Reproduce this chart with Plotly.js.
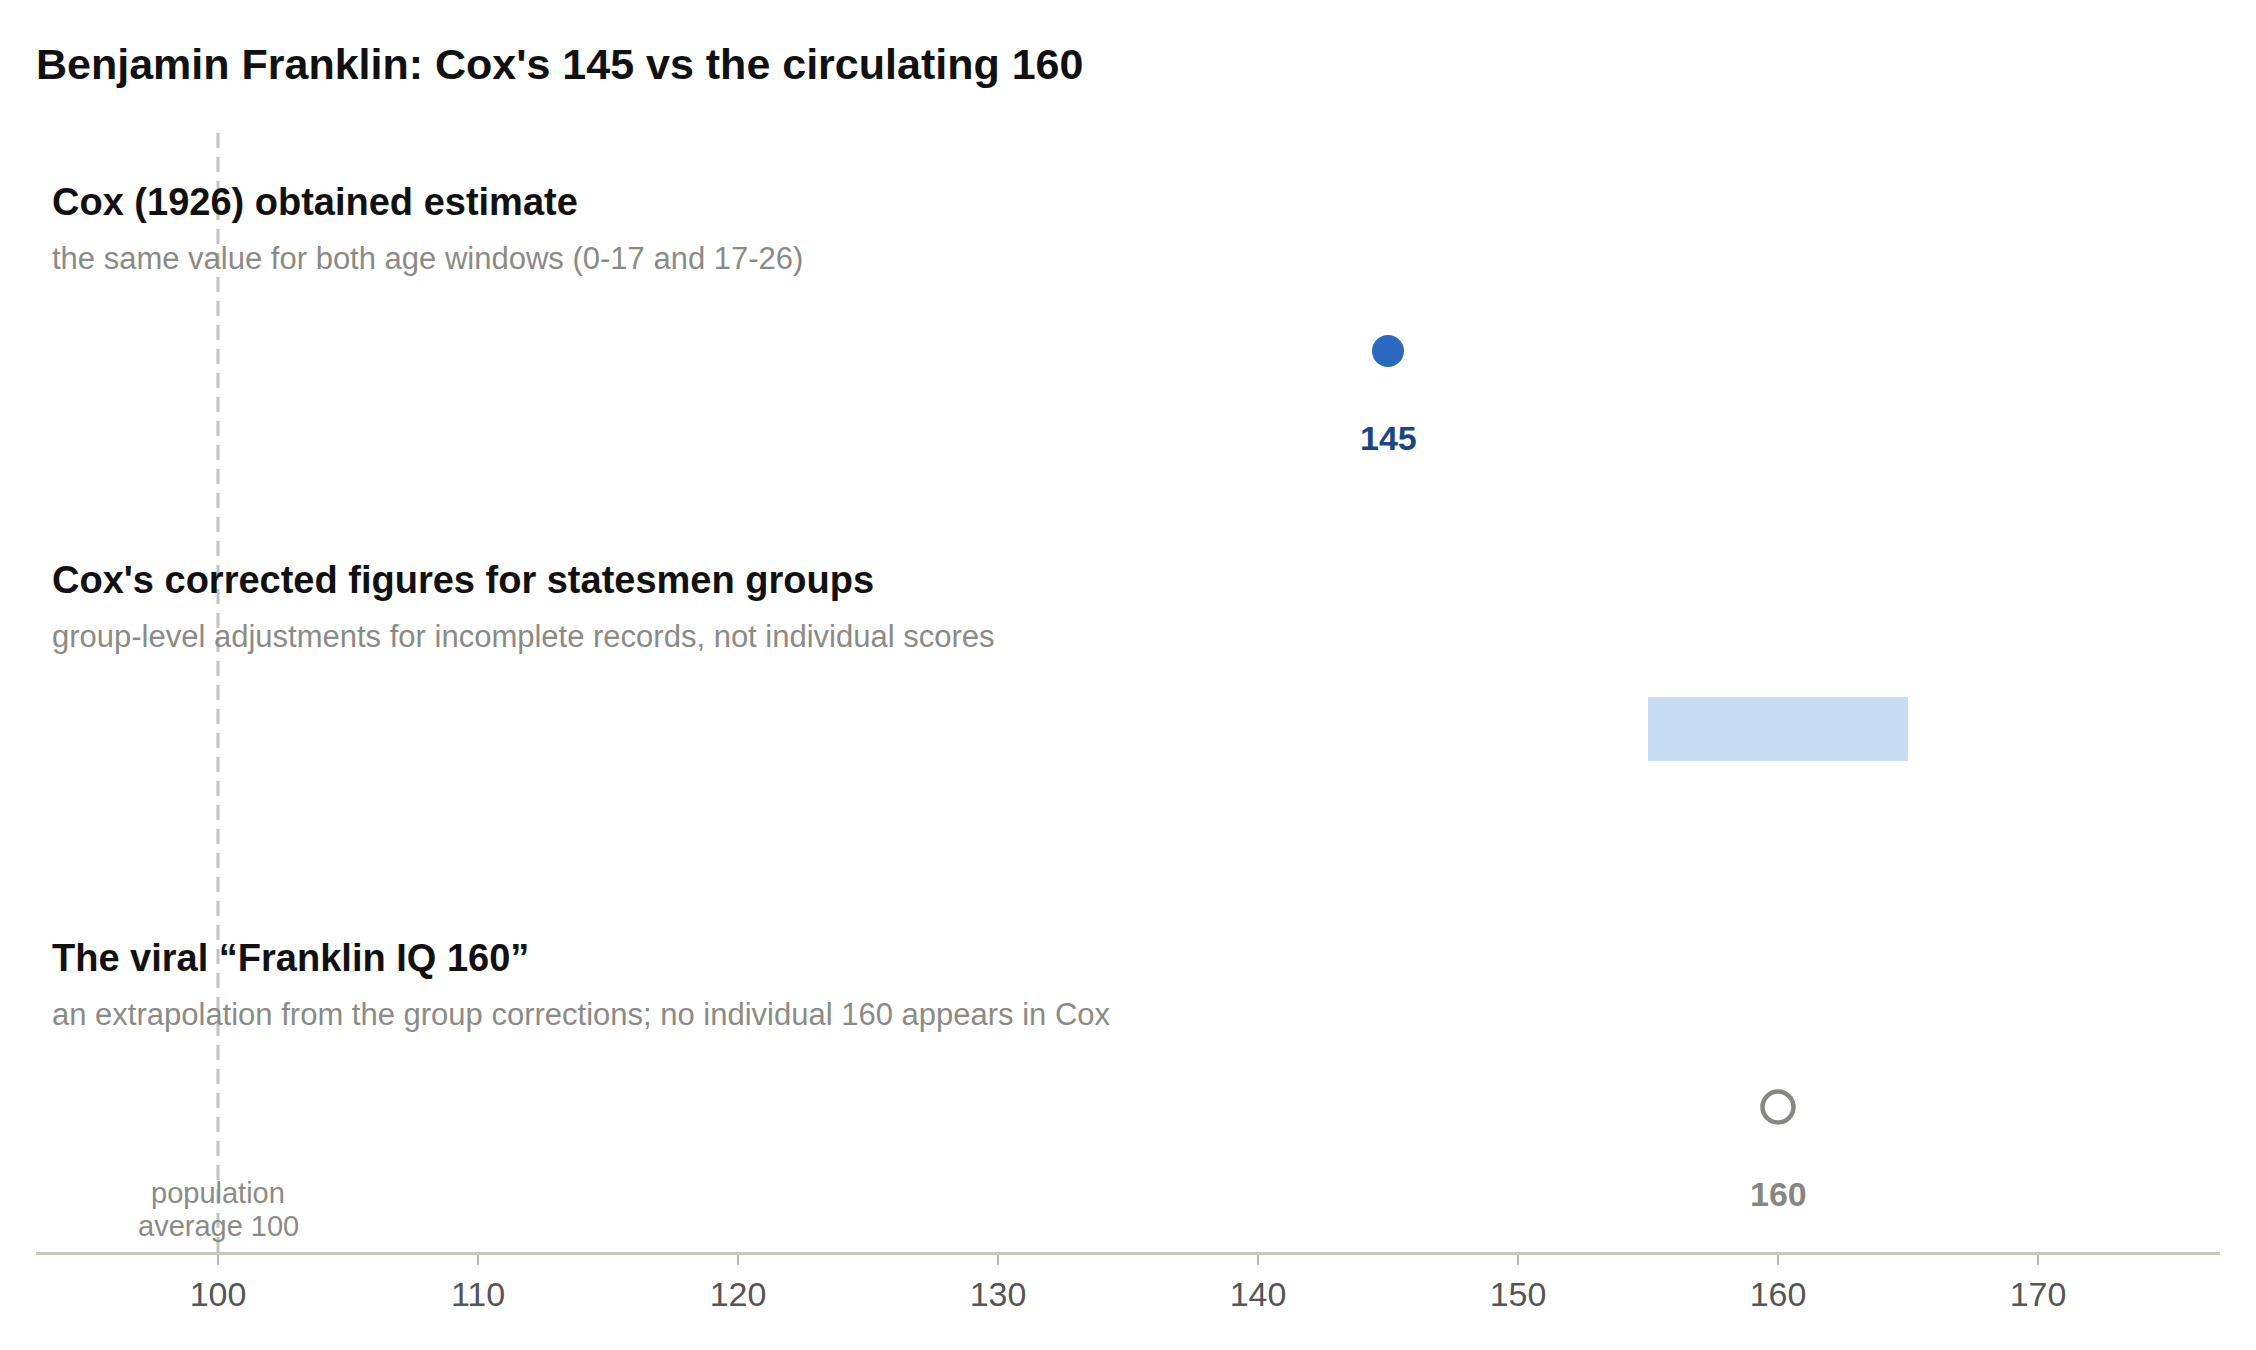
<!DOCTYPE html>
<html>
<head>
<meta charset="utf-8">
<script src="https://cdn.plot.ly/plotly-3.0.1.min.js"></script>
<style>
  html, body { margin: 0; padding: 0; background: #ffffff; }
  #chart { width: 2256px; height: 1350px; }
</style>
</head>
<body>
<div id="chart"></div>
<script>
// ---- data ----
const chartTitle = "Benjamin Franklin: Cox's 145 vs the circulating 160";
const rowTitles = [
  "Cox (1926) obtained estimate",
  "Cox's corrected figures for statesmen groups",
  "The viral \u201cFranklin IQ 160\u201d"
];
const rowSubtitles = [
  "the same value for both age windows (0-17 and 17-26)",
  "group-level adjustments for incomplete records, not individual scores",
  "an extrapolation from the group corrections; no individual 160 appears in Cox"
];
const rowIndex = [2, 1, 0];           // top to bottom
const coxEstimate = [145];
const correctedLow = [155];
const correctedHigh = [165];
const viralClaim = [160];
const populationAverage = 100;
const populationLabel = ["population", "average 100"];
const tickValues = [100, 110, 120, 130, 140, 150, 160, 170];
const tickLabels = ["100", "110", "120", "130", "140", "150", "160", "170"];

// ---- styling ----
const FONT = "Liberation Sans, Arial, Helvetica, sans-serif";
const BLUE = "#2a69bf";
const DARKBLUE = "#1b4686";
const LIGHTBLUE = "#c8ddf4";
const GREY = "#878782";
const SUBGREY = "#8b8b86";

const traces = [
  {
    type: "bar",
    orientation: "h",
    y: [rowIndex[1]],
    base: correctedLow,
    x: correctedHigh.map((h, i) => h - correctedLow[i]),
    width: 0.169,
    marker: { color: LIGHTBLUE, line: { width: 0 } },
    hoverinfo: "skip",
    showlegend: false
  },
  {
    type: "scatter",
    mode: "markers",
    x: coxEstimate,
    y: [rowIndex[0]],
    marker: { size: 32, color: BLUE, line: { width: 0 } },
    hoverinfo: "skip",
    showlegend: false
  },
  {
    type: "scatter",
    mode: "markers",
    x: viralClaim,
    y: [rowIndex[2]],
    marker: { size: 31, color: "#ffffff", line: { width: 4.5, color: GREY } },
    hoverinfo: "skip",
    showlegend: false
  }
];

const annotations = [];
rowTitles.forEach((t, i) => {
  annotations.push({
    text: "<b>" + t + "</b>",
    xref: "paper", x: 0, xanchor: "left", xshift: 14,
    yref: "y", y: rowIndex[i], yanchor: "middle", yshift: 149,
    showarrow: false,
    font: { family: FONT, size: 38, color: "#111111" }
  });
  annotations.push({
    text: rowSubtitles[i],
    xref: "paper", x: 0, xanchor: "left", xshift: 14,
    yref: "y", y: rowIndex[i], yanchor: "middle", yshift: 93,
    showarrow: false,
    font: { family: FONT, size: 31, color: SUBGREY }
  });
});
annotations.push({
  text: "<b>" + coxEstimate[0] + "</b>",
  xref: "x", x: coxEstimate[0], yref: "y", y: rowIndex[0],
  yanchor: "middle", yshift: -87, showarrow: false,
  font: { family: FONT, size: 34, color: DARKBLUE }
});
annotations.push({
  text: "<b>" + viralClaim[0] + "</b>",
  xref: "x", x: viralClaim[0], yref: "y", y: rowIndex[2],
  yanchor: "middle", yshift: -87, showarrow: false,
  font: { family: FONT, size: 34, color: GREY }
});
populationLabel.forEach((t, k) => {
  annotations.push({
    text: t,
    xref: "x", x: populationAverage, yref: "paper", y: 0,
    yanchor: "middle", yshift: 59 - k * 33, showarrow: false,
    font: { family: FONT, size: 29, color: SUBGREY }
  });
});

const layout = {
  width: 2256,
  height: 1350,
  paper_bgcolor: "#ffffff",
  plot_bgcolor: "#ffffff",
  margin: { l: 36, r: 36, t: 125, b: 98, pad: 0 },
  title: {
    text: "<b>" + chartTitle + "</b>",
    xref: "container", x: 36 / 2256, xanchor: "left",
    yref: "container", y: 1 - 64 / 1350, yanchor: "middle",
    font: { family: FONT, size: 43, color: "#111111" }
  },
  font: { family: FONT },
  showlegend: false,
  xaxis: {
    range: [93, 177],
    tickvals: tickValues,
    ticktext: tickLabels,
    ticks: "outside",
    ticklen: 10,
    tickwidth: 2,
    tickcolor: "#b9b9b1",
    tickfont: { family: FONT, size: 34, color: "#555555" },
    showgrid: false,
    zeroline: false,
    showline: true,
    linecolor: "#c8c8be",
    linewidth: 3,
    fixedrange: true
  },
  yaxis: {
    range: [-0.3836, 2.598],
    visible: false,
    showgrid: false,
    zeroline: false,
    fixedrange: true
  },
  shapes: [
    {
      type: "line",
      xref: "x", x0: populationAverage, x1: populationAverage,
      yref: "paper", y0: 0, y1: 1,
      line: { color: "#c2c2be", width: 3, dash: "15px,9px" },
      layer: "below"
    }
  ],
  annotations: annotations
};

Plotly.newPlot("chart", traces, layout, { displayModeBar: false, staticPlot: true });
</script>
</body>
</html>
